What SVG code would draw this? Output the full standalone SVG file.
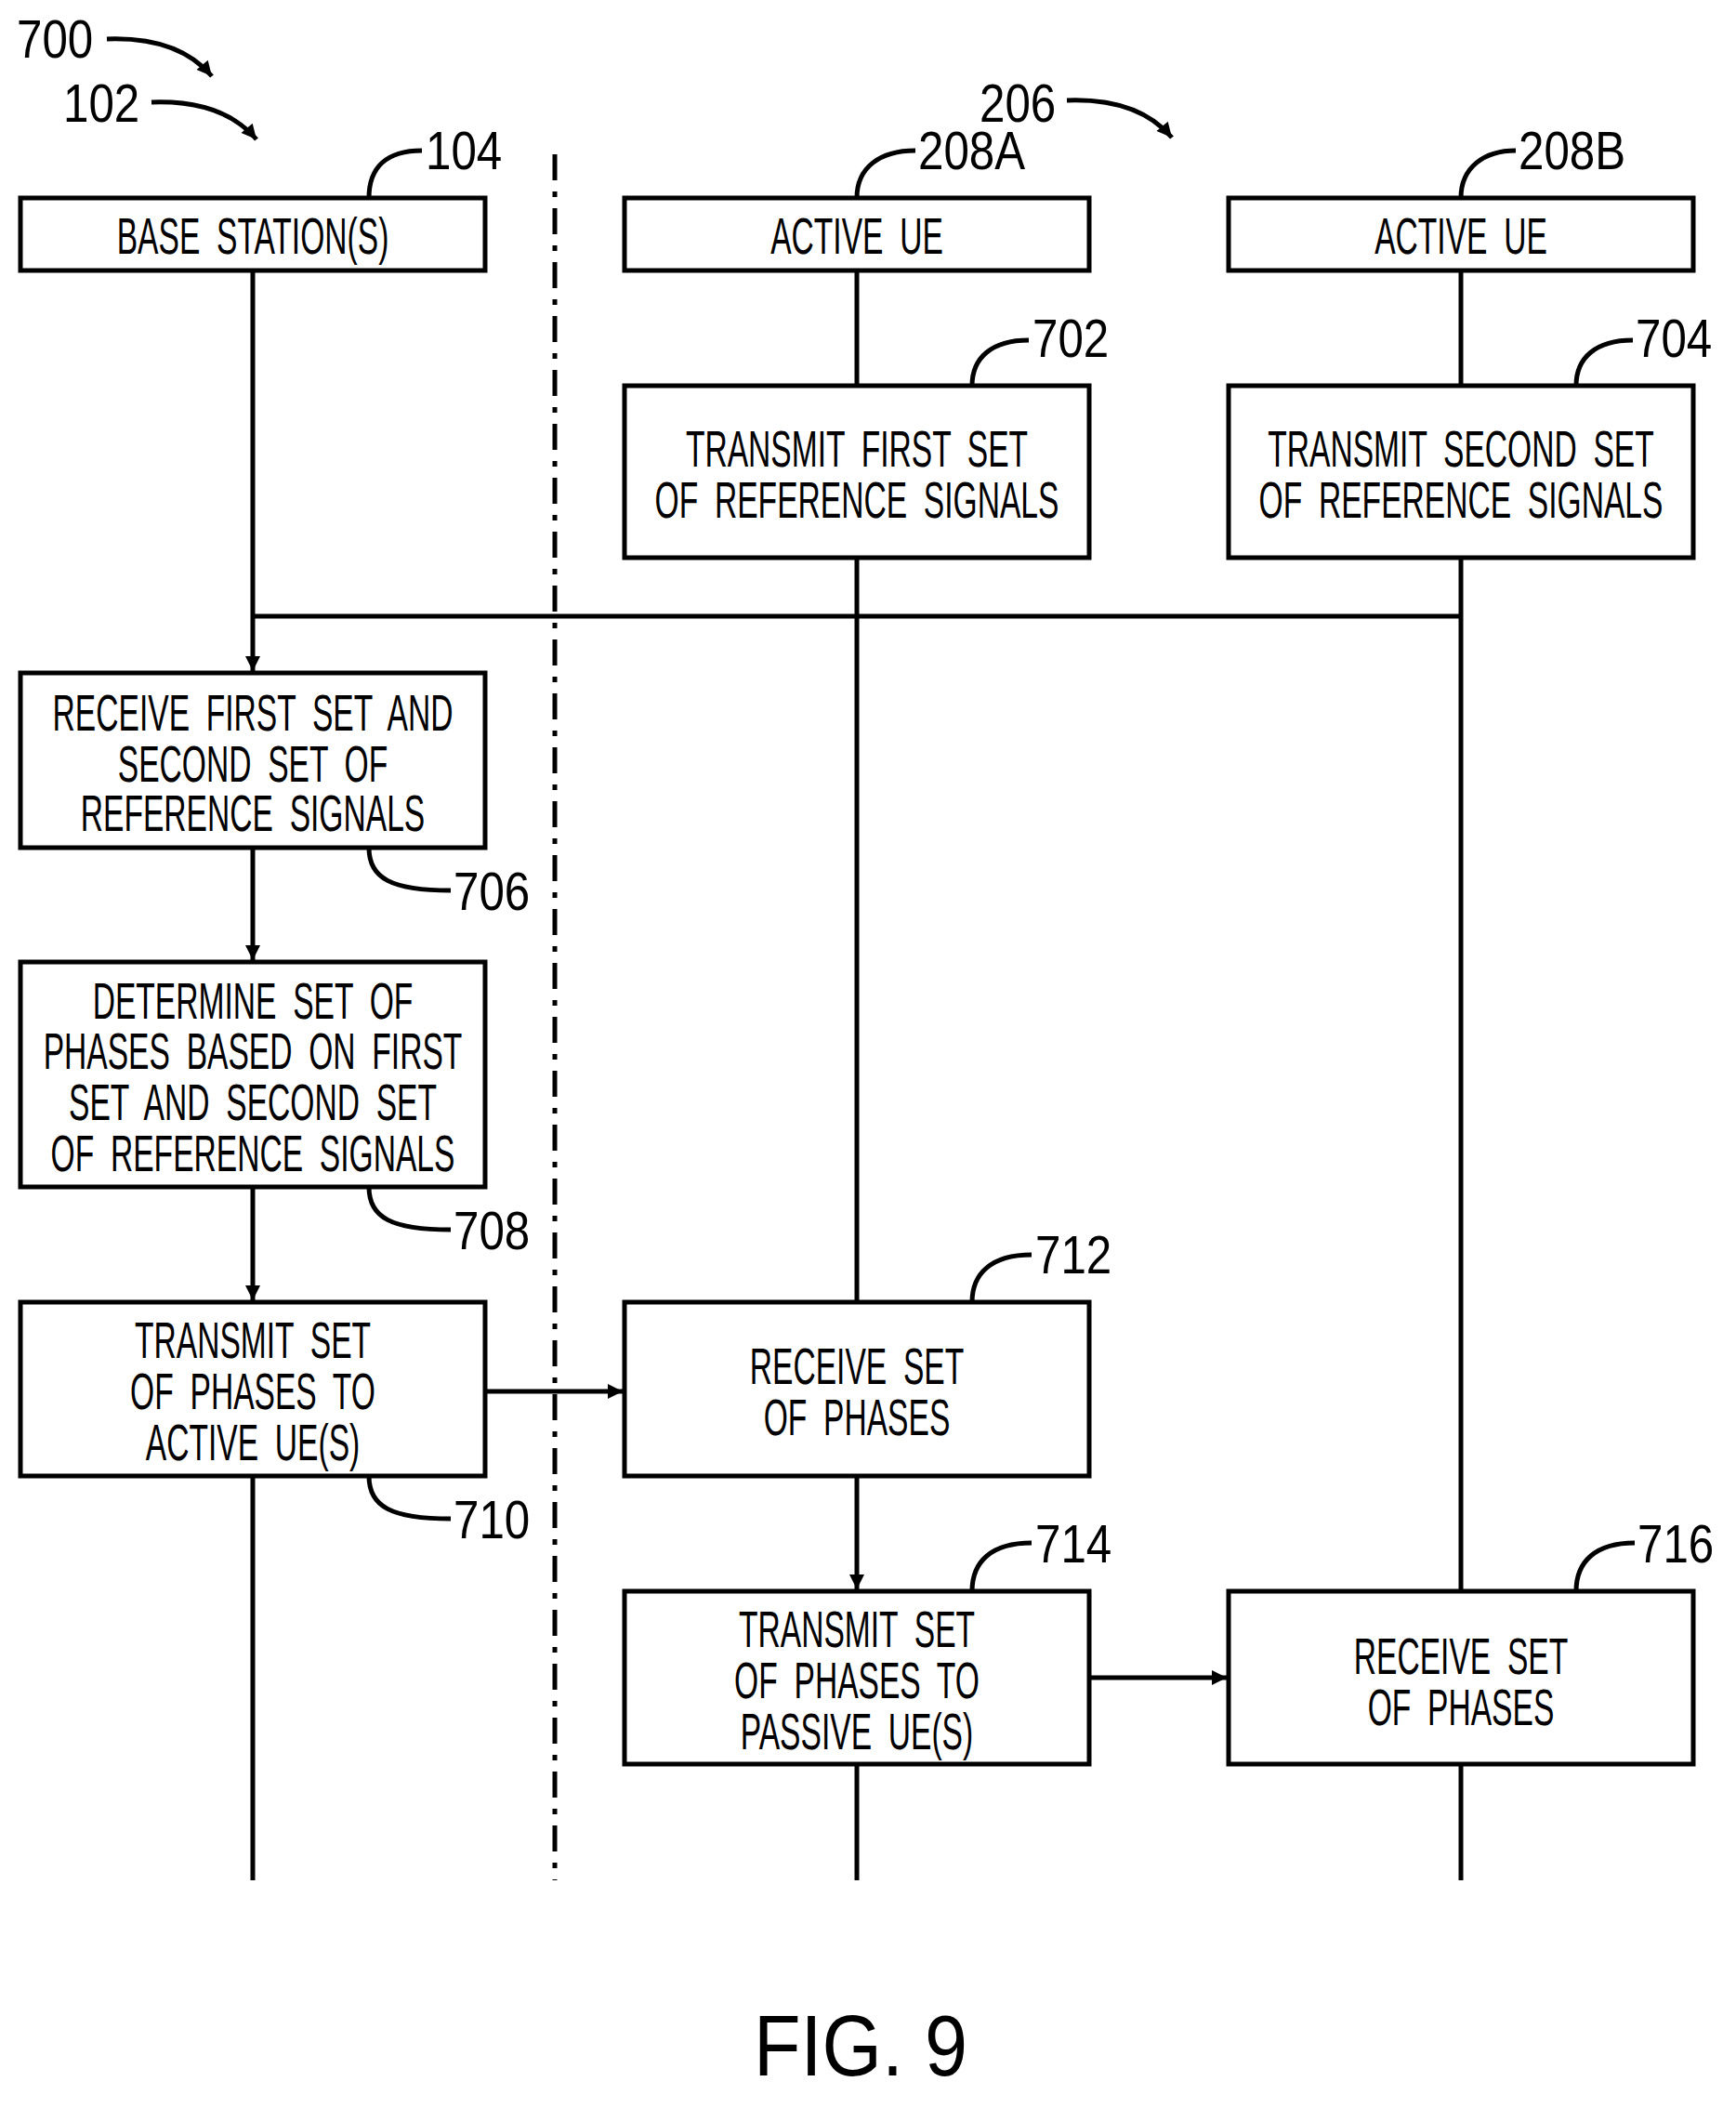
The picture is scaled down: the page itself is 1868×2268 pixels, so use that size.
<svg xmlns="http://www.w3.org/2000/svg" width="1868" height="2268" viewBox="0 0 1868 2268">
<defs>
<style>
.b{fill:#fff;stroke:#000;stroke-width:5}
.l{fill:none;stroke:#000;stroke-width:5}
.t{font-family:"Liberation Sans",Arial,sans-serif;font-size:56px;text-anchor:middle;fill:#000;word-spacing:14px}
.n{font-family:"Liberation Sans",Arial,sans-serif;font-size:58px;fill:#000}
</style>
<marker id="h" viewBox="0 0 10 10" refX="10" refY="5" markerWidth="22" markerHeight="16" orient="auto" markerUnits="userSpaceOnUse"><path d="M0,0L10,5L0,10z"/></marker>
</defs>
<rect width="1868" height="2268" fill="#fff"/>
<g id="connectors" class="l">
<line x1="597" y1="166" x2="597" y2="2023" stroke-dasharray="28 12 6 12"/>
<path d="M272 291V722" marker-end="url(#h)"/>
<path d="M272 912V1033" marker-end="url(#h)"/>
<path d="M272 1277V1399" marker-end="url(#h)"/>
<path d="M272 1588V2023"/>
<path d="M922 291V415M922 600V1401"/>
<path d="M922 1588V1710" marker-end="url(#h)"/>
<path d="M922 1898V2023"/>
<path d="M1572 291V415M1572 600V1712M1572 1898V2023"/>
<path d="M1572 663H272"/>
<path d="M522 1497H670" marker-end="url(#h)"/>
<path d="M1172 1805H1320" marker-end="url(#h)"/>
<path d="M115 42C170 40 205 55 228 82" marker-end="url(#h)"/>
<path d="M163 110C218 108 253 123 276 150" marker-end="url(#h)"/>
<path d="M1148 108C1203 106 1238 121 1261 148" marker-end="url(#h)"/>
<path d="M397 213C397 180 416 162 454 162M922 213C922 180 947 162 985 162M1572 213C1572 180 1597 162 1631 162M1046 415C1046 385 1067 366 1107 366M1696 415C1696 385 1717 366 1757 366M397 912C397 945 421 958 485 958M397 1277C397 1310 421 1323 485 1323M397 1588C397 1621 421 1634 485 1634M1046 1401C1046 1370 1067 1350 1110 1350M1046 1712C1046 1680 1067 1660 1110 1660M1696 1712C1696 1680 1717 1660 1759 1660"/>
</g>
<g id="labels" class="n">
<text transform="translate(18,62) scale(0.85,1)">700</text>
<text transform="translate(68,131) scale(0.85,1)">102</text>
<text transform="translate(458,182) scale(0.85,1)">104</text>
<text transform="translate(1054,131) scale(0.85,1)">206</text>
<text transform="translate(988,182) scale(0.85,1)">208A</text>
<text transform="translate(1634,182) scale(0.85,1)">208B</text>
<text transform="translate(1111,384) scale(0.85,1)">702</text>
<text transform="translate(1760,384) scale(0.85,1)">704</text>
<text transform="translate(488,979) scale(0.85,1)">706</text>
<text transform="translate(488,1344) scale(0.85,1)">708</text>
<text transform="translate(488,1655) scale(0.85,1)">710</text>
<text transform="translate(1114,1370) scale(0.85,1)">712</text>
<text transform="translate(1114,1681) scale(0.85,1)">714</text>
<text transform="translate(1762,1681) scale(0.85,1)">716</text>
</g>
<g id="n104"><rect class="b" x="22" y="213" width="500" height="78"/><text class="t" transform="translate(272,273) scale(0.6,1)">BASE STATION(S)</text></g>
<g id="n208A"><rect class="b" x="672" y="213" width="500" height="78"/><text class="t" transform="translate(922,273) scale(0.6,1)">ACTIVE UE</text></g>
<g id="n208B"><rect class="b" x="1322" y="213" width="500" height="78"/><text class="t" transform="translate(1572,273) scale(0.6,1)">ACTIVE UE</text></g>
<g id="n702"><rect class="b" x="672" y="415" width="500" height="185"/><text class="t" transform="translate(922,502) scale(0.6,1)">TRANSMIT FIRST SET</text><text class="t" transform="translate(922,557) scale(0.6,1)">OF REFERENCE SIGNALS</text></g>
<g id="n704"><rect class="b" x="1322" y="415" width="500" height="185"/><text class="t" transform="translate(1572,502) scale(0.6,1)">TRANSMIT SECOND SET</text><text class="t" transform="translate(1572,557) scale(0.6,1)">OF REFERENCE SIGNALS</text></g>
<g id="n706"><rect class="b" x="22" y="724" width="500" height="188"/><text class="t" transform="translate(272,786) scale(0.6,1)">RECEIVE FIRST SET AND</text><text class="t" transform="translate(272,841) scale(0.6,1)">SECOND SET OF</text><text class="t" transform="translate(272,894) scale(0.6,1)">REFERENCE SIGNALS</text></g>
<g id="n708"><rect class="b" x="22" y="1035" width="500" height="242"/><text class="t" transform="translate(272,1096) scale(0.6,1)">DETERMINE SET OF</text><text class="t" transform="translate(272,1150) scale(0.6,1)">PHASES BASED ON FIRST</text><text class="t" transform="translate(272,1205) scale(0.6,1)">SET AND SECOND SET</text><text class="t" transform="translate(272,1260) scale(0.6,1)">OF REFERENCE SIGNALS</text></g>
<g id="n710"><rect class="b" x="22" y="1401" width="500" height="187"/><text class="t" transform="translate(272,1461) scale(0.6,1)">TRANSMIT SET</text><text class="t" transform="translate(272,1516) scale(0.6,1)">OF PHASES TO</text><text class="t" transform="translate(272,1571) scale(0.6,1)">ACTIVE UE(S)</text></g>
<g id="n712"><rect class="b" x="672" y="1401" width="500" height="187"/><text class="t" transform="translate(922,1489) scale(0.6,1)">RECEIVE SET</text><text class="t" transform="translate(922,1544) scale(0.6,1)">OF PHASES</text></g>
<g id="n714"><rect class="b" x="672" y="1712" width="500" height="186"/><text class="t" transform="translate(922,1772) scale(0.6,1)">TRANSMIT SET</text><text class="t" transform="translate(922,1827) scale(0.6,1)">OF  PHASES TO</text><text class="t" transform="translate(922,1882) scale(0.6,1)">PASSIVE UE(S)</text></g>
<g id="n716"><rect class="b" x="1322" y="1712" width="500" height="186"/><text class="t" transform="translate(1572,1801) scale(0.6,1)">RECEIVE SET</text><text class="t" transform="translate(1572,1856) scale(0.6,1)">OF PHASES</text></g>
<text x="926" y="2233" font-family="Liberation Sans, Arial, sans-serif" font-size="92" text-anchor="middle" transform="translate(926,0) scale(0.9,1) translate(-926,0)">FIG. 9</text>
</svg>
